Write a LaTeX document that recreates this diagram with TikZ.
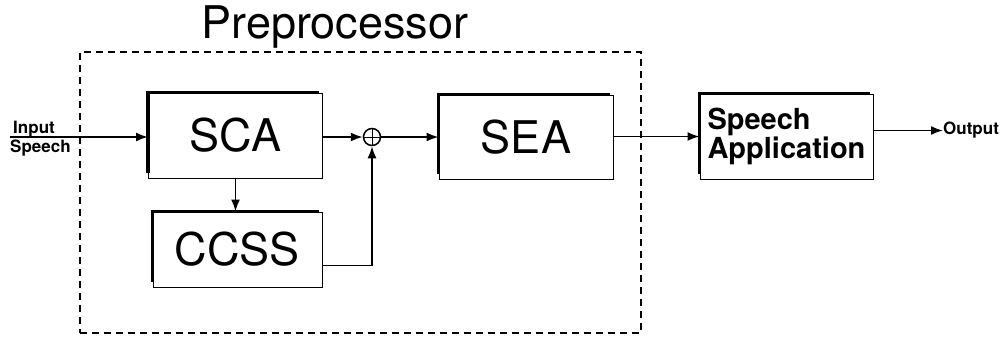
\documentclass[tikz,border=0pt]{standalone}
\usepackage{fontspec}
\setmainfont{TeX Gyre Heros}
\usetikzlibrary{arrows.meta,calc}
\begin{document}
\begin{tikzpicture}[x=1pt,y=-1pt,
  blk/.style={draw, line width=1pt, inner sep=0pt, font=\fontsize{45}{45}\selectfont},
  edge/.style={line width=3.2pt},
  conn/.style={line width=1.8pt, -{Latex[length=12pt,width=9pt]}},
  lbl/.style={inner sep=0pt, font=\bfseries\fontsize{17}{17}\selectfont}]
\useasboundingbox (0,0) rectangle (1007,341);
% preprocessor frame
\node[draw, dash pattern=on 7pt off 5pt, line width=1.8pt, minimum width=561pt, minimum height=281pt, inner sep=0pt] (pre) at (360.5,192.5) {};
\node[inner sep=0pt, font=\fontsize{45}{45}\selectfont, anchor=base] (title) at (335,38) {Preprocessor};
% blocks
\node[blk, minimum width=174pt, minimum height=85pt] (sca) at (235.5,135.5) {SCA};
\node[blk, minimum width=169pt, minimum height=75pt] (ccss) at (237.5,249.5) {CCSS};
\node[blk, minimum width=174pt, minimum height=84pt] (sea) at (526,137) {SEA};
\node[blk, minimum width=173pt, minimum height=85pt, align=left, font=\bfseries\fontsize{29}{21}\selectfont] (app) at (786.5,136.5) {Speech\\Application};
\foreach \b in {sca,ccss,sea,app}{
  \draw[edge] ($(\b.south west)+(0,-6)$) |- ($(\b.north east)+(-4,0)$);
}
% summing junction
\node[draw, circle, line width=1.5pt, minimum size=17pt, inner sep=0pt] (sum) at (372,137) {};
\draw[line width=1pt] (sum.north) -- (sum.south) (sum.west) -- (sum.east);
% labels
\node[lbl, anchor=base west] (in1) at (13,133) {Input};
\node[lbl, anchor=base west] (in2) at (10,152) {Speech};
\coordinate (inp) at (10,137);
\node[lbl, anchor=west] (out) at (943,130.5) {Output};
% connectors
\draw[conn] (inp) -- (inp -| sca.west);
\draw[conn] (sca.east |- sum) -- (sum.west);
\draw[conn] (sum.east) -- (sum -| sea.west);
\draw[conn] (sca.south) -- (sca.south |- ccss.north);
\draw[conn] ($(ccss.east)+(0,16)$) -| (sum.south);
\draw[conn] (sea.east |- app.west) -- (app.west);
\draw[conn] (app.east |- out.west) -- (out.west);
\end{tikzpicture}
\end{document}
